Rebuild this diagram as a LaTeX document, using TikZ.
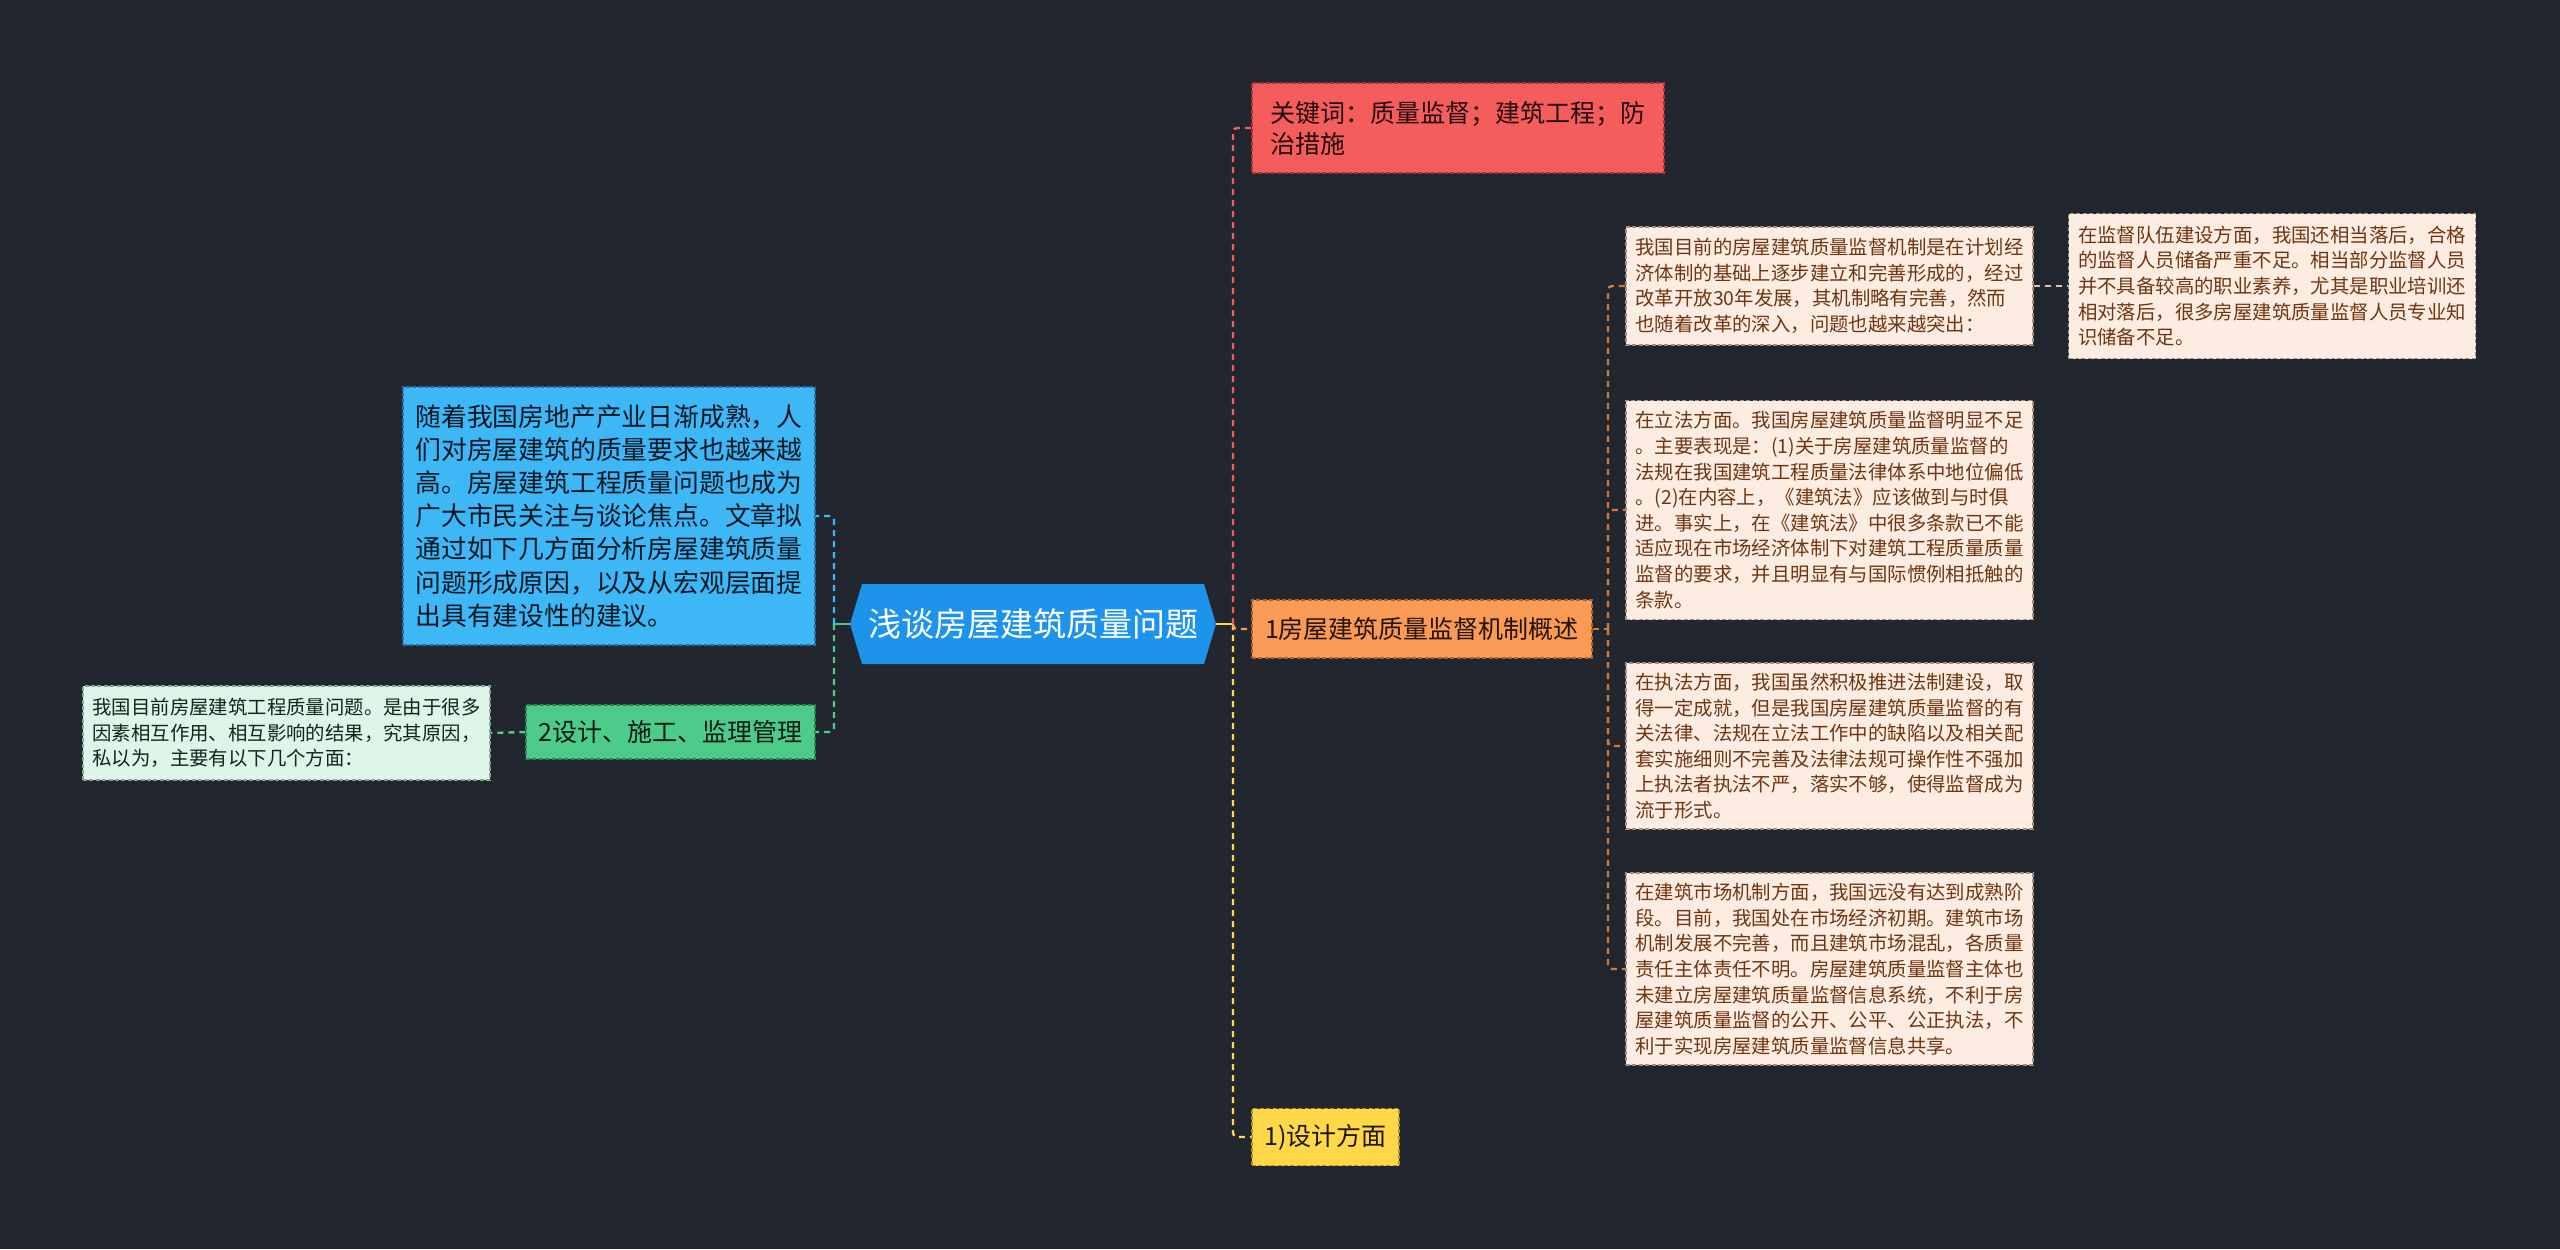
\documentclass[tikz,border=0pt]{standalone}
\usepackage{fontspec}
\setmainfont{Noto Sans CJK SC}
\usepackage{tikz}
\definecolor{bgc}{HTML}{22262F}
\definecolor{rootc}{HTML}{1D93EB}
\definecolor{kwc}{HTML}{F55D5D}
\definecolor{kwd}{HTML}{A83434}
\definecolor{mechc}{HTML}{F99A55}
\definecolor{mechd}{HTML}{B0602A}
\definecolor{desc}{HTML}{FFD84A}
\definecolor{desd}{HTML}{B0902A}
\definecolor{introc}{HTML}{3DB7F5}
\definecolor{introd}{HTML}{2272A6}
\definecolor{grnc}{HTML}{4CCB8B}
\definecolor{grnd}{HTML}{2A8556}
\definecolor{reasonc}{HTML}{E0F5EA}
\definecolor{reasond}{HTML}{86A896}
\definecolor{peach}{HTML}{FDECE1}
\definecolor{peachd}{HTML}{A8907E}
\definecolor{leaftext}{HTML}{6E3612}
\definecolor{brownline}{HTML}{CF7A3C}
\definecolor{paleline}{HTML}{D9C3B3}
\tikzset{
  box/.style={draw, dash pattern=on 2pt off 1.2pt, line width=0.6pt, inner sep=0pt, align=left},
  leaf/.style={box, fill=peach, draw=peachd, text=leaftext, minimum width=203.5pt, font=\fontsize{9.7}{12.8}\selectfont},
  branch/.style={box, font=\fontsize{12.5}{15}\selectfont},
  link/.style={line width=1.2pt, dash pattern=on 3pt off 2.5pt, rounded corners=2pt}
}

\begin{document}
\begin{tikzpicture}[x=0.5pt, y=-0.5pt]
  \fill[bgc] (0,0) rectangle (2560,1249);
  \useasboundingbox (0,0) rectangle (2560,1249);

  % centre topic
  \fill[rootc] (850,624) -- (862,584) -- (1204,584) -- (1216,624) -- (1204,664) -- (862,664) -- cycle;
  \node[text=white, minimum width=183pt, minimum height=40pt, inner sep=0pt, font=\fontsize{16.5}{20}\selectfont] (root) at (1033,624) {浅谈房屋建筑质量问题};

  % right side
  \node[branch, fill=kwc, draw=kwd, text=black!80!kwd, minimum width=206pt, minimum height=45pt, font=\fontsize{12.5}{15.5}\selectfont] (kw) at (1458,128) {关键词：质量监督；建筑工程；防\\治措施};
  \node[branch, fill=mechc, draw=mechd, text=black!80!mechd, minimum width=170pt, minimum height=29pt] (mech) at (1422,629) {1房屋建筑质量监督机制概述};
  \node[branch, fill=desc, draw=desd, text=black!85!desd, minimum width=73.5pt, minimum height=28.5pt] (des) at (1325.5,1137) {1)设计方面};

  \node[leaf, minimum height=59pt] (la) at (1829.5,286) {我国目前的房屋建筑质量监督机制是在计划经\\济体制的基础上逐步建立和完善形成的，经过\\改革开放30年发展，其机制略有完善，然而\\也随着改革的深入，问题也越来越突出：};
  \node[leaf, minimum height=109.5pt] (lb) at (1829.5,510) {在立法方面。我国房屋建筑质量监督明显不足\\。主要表现是：(1)关于房屋建筑质量监督的\\法规在我国建筑工程质量法律体系中地位偏低\\。(2)在内容上，《建筑法》应该做到与时俱\\进。事实上，在《建筑法》中很多条款已不能\\适应现在市场经济体制下对建筑工程质量质量\\监督的要求，并且明显有与国际惯例相抵触的\\条款。};
  \node[leaf, minimum height=83pt] (lc) at (1829.5,746) {在执法方面，我国虽然积极推进法制建设，取\\得一定成就，但是我国房屋建筑质量监督的有\\关法律、法规在立法工作中的缺陷以及相关配\\套实施细则不完善及法律法规可操作性不强加\\上执法者执法不严，落实不够，使得监督成为\\流于形式。};
  \node[leaf, minimum height=96pt] (ld) at (1829.5,969) {在建筑市场机制方面，我国远没有达到成熟阶\\段。目前，我国处在市场经济初期。建筑市场\\机制发展不完善，而且建筑市场混乱，各质量\\责任主体责任不明。房屋建筑质量监督主体也\\未建立房屋建筑质量监督信息系统，不利于房\\屋建筑质量监督的公开、公平、公正执法，不\\利于实现房屋建筑质量监督信息共享。};
  \node[leaf, minimum height=72.5pt] (le) at (2272,286) {在监督队伍建设方面，我国还相当落后，合格\\的监督人员储备严重不足。相当部分监督人员\\并不具备较高的职业素养，尤其是职业培训还\\相对落后，很多房屋建筑质量监督人员专业知\\识储备不足。};

  % left side
  \node[box, fill=introc, draw=introd, text=black!80!introd, minimum width=206pt, minimum height=129pt, font=\fontsize{12.9}{16.6}\selectfont] (intro) at (609,516) {随着我国房地产产业日渐成熟，人\\们对房屋建筑的质量要求也越来越\\高。房屋建筑工程质量问题也成为\\广大市民关注与谈论焦点。文章拟\\通过如下几方面分析房屋建筑质量\\问题形成原因，以及从宏观层面提\\出具有建设性的建议。};
  \node[branch, fill=grnc, draw=grnd, text=black!80!grnd, minimum width=144.5pt, minimum height=27pt] (design) at (670.5,732) {2设计、施工、监理管理};
  \node[box, fill=reasonc, draw=reasond, text=black!70!grnd, minimum width=203.5pt, minimum height=47pt, font=\fontsize{9.7}{12.8}\selectfont] (reason) at (286.5,733) {我国目前房屋建筑工程质量问题。是由于很多\\因素相互作用、相互影响的结果，究其原因，\\私以为，主要有以下几个方面：};

  % connectors
  \coordinate (rtrunk) at (1233,624);
  \coordinate (ltrunk) at (834,624);
  \coordinate (mtrunk) at (1608,629);
  \draw[desc, line width=1.2pt] (root.east) -- (rtrunk);
  \draw[link, kwc] (rtrunk) |- (kw.west);
  \draw[link, desc] (rtrunk) |- (des.west);
  \draw[link, mechc] (rtrunk) |- (mech.west);
  \draw[grnc, line width=1.2pt] (root.west) -- (ltrunk);
  \draw[link, introc] (ltrunk) |- (intro.east);
  \draw[link, grnc] (ltrunk) |- (design.east);
  \draw[link, grnc] (design.west) -- (reason.east);
  \draw[link, brownline] (mech.east) -- (mtrunk);
  \foreach \n in {la,lb,lc,ld}
    \draw[link, brownline] (mtrunk) |- (\n.west);
  \draw[link, paleline] (la.east) -- (le.west);
\end{tikzpicture}
\end{document}
